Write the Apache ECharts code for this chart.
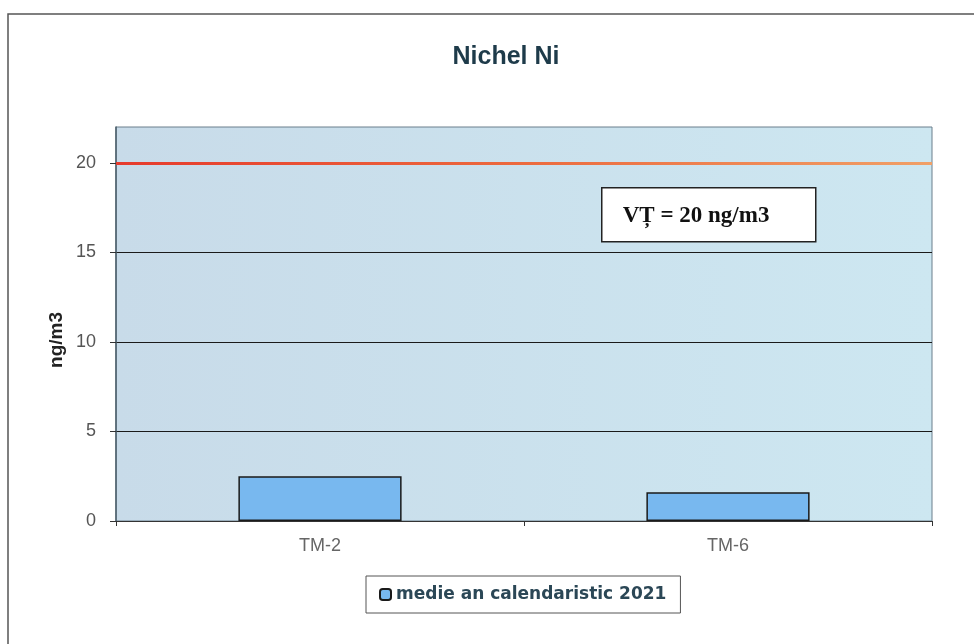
<!DOCTYPE html>
<html>
<head>
<meta charset="utf-8">
<script src="https://cdn.jsdelivr.net/npm/echarts@6/dist/echarts.min.js"></script>
<style>
html,body{margin:0;padding:0;background:#fff;}
#c{width:974px;height:644px;}
</style>
</head>
<body>
<div id="c"></div>
<script>
var categories = ['TM-2', 'TM-6'];
var seriesName = 'medie an calendaristic 2021';
var values = [2.5, 1.6];
var limitValue = 20;
var limitLabel = 'VȚ = 20 ng/m3';
var yAxisName = 'ng/m3';
var yTicks = [0, 5, 10, 15, 20];

var chart = echarts.init(document.getElementById('c'));
chart.setOption({
  backgroundColor: '#ffffff',
  animation: false,
  title: {
    text: 'Nichel Ni',
    left: 501, top: 40, textAlign: 'center',
    textStyle: {fontFamily: 'Liberation Sans, Arial', fontWeight: 'bold', fontSize: 25, color: '#1e3b4a'}
  },
  graphic: [
    {type: 'polyline', shape: {points: [[8, 644], [8, 14], [974, 14]]}, style: {stroke: '#555', lineWidth: 1.5, fill: null}, z: 0},
    {type: 'text', x: 57, y: 340, rotation: Math.PI / 2, z: 100,
      style: {text: yAxisName, align: 'center', verticalAlign: 'middle',
        font: 'bold 19px "Liberation Sans", Arial, sans-serif', fill: '#222'}},
    {type: 'group', left: 601, top: 187, z: 100, children: [
      {type: 'rect', shape: {x: 0, y: 0, width: 214, height: 54}, style: {fill: '#ffffff', stroke: '#222', lineWidth: 1.5}},
      {type: 'text', style: {x: 21, y: 28, text: limitLabel, align: 'left', verticalAlign: 'middle',
        font: 'bold 23px "Liberation Serif", "Times New Roman", serif', fill: '#111'}}
    ]}
  ],
  grid: {
    left: 116, right: 42, top: 127, bottom: 123,
    show: true,
    backgroundColor: {type: 'linear', x: 0, y: 0, x2: 1, y2: 0,
      colorStops: [{offset: 0, color: '#c8dbe9'}, {offset: 1, color: '#cde7f1'}]},
    borderColor: '#6b7f8c', borderWidth: 1
  },
  legend: {
    bottom: 31, left: 366,
    data: [seriesName],
    itemWidth: 11, itemHeight: 11, itemGap: 4,
    padding: [10, 14, 10, 13],
    borderColor: '#555', borderWidth: 1, backgroundColor: '#fff',
    textStyle: {fontFamily: 'DejaVu Sans', fontWeight: 'bold', fontSize: 17, color: '#2b4756'}
  },
  xAxis: {
    type: 'category', data: categories,
    axisLine: {lineStyle: {color: '#333', width: 1}},
    axisTick: {show: true, length: 5, lineStyle: {color: '#333'}},
    axisLabel: {fontFamily: 'Liberation Sans, Arial', fontSize: 18, color: '#666', margin: 16},
    splitLine: {show: false}
  },
  yAxis: {
    type: 'value', min: 0, max: 22, interval: 5,
    axisLine: {show: true, lineStyle: {color: '#4a5c68', width: 1.5}},
    axisTick: {show: true, length: 6, lineStyle: {color: '#333'}, customValues: yTicks},
    axisLabel: {fontFamily: 'Liberation Sans, Arial', fontSize: 18, color: '#555', margin: 20,
      customValues: yTicks},
    splitLine: {show: true, lineStyle: {color: '#1a1a1a', width: 1}}
  },
  series: [{
    name: seriesName, type: 'bar', data: values, barWidth: '40%',
    itemStyle: {color: '#78b8ef', borderColor: '#1a1a1a', borderWidth: 1.5},
    markLine: {
      silent: true, symbol: 'none', label: {show: false},
      lineStyle: {type: 'solid', width: 3,
        color: {type: 'linear', x: 0, y: 0, x2: 1, y2: 0,
          colorStops: [{offset: 0, color: '#e63a2c'}, {offset: 0.5, color: '#ec6a3e'}, {offset: 1, color: '#f0a067'}]}},
      data: [{yAxis: limitValue}]
    }
  }]
});
</script>
</body>
</html>
